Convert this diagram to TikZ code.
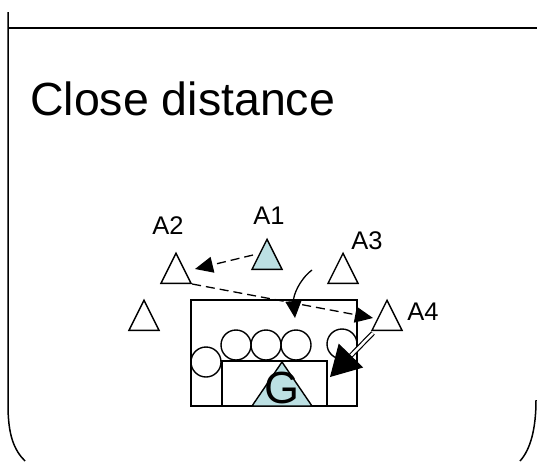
\documentclass[tikz,border=0pt]{standalone}
\usepackage{fontspec}
\setmainfont{Liberation Sans}
\usetikzlibrary{shapes.geometric,arrows.meta}
\definecolor{agentfill}{RGB}{188,224,227}

\begin{document}
\begin{tikzpicture}[x=1pt,y=-1pt]
    \tikzstyle{agent}=[isosceles triangle,shape border rotate=90,isosceles triangle stretches,draw,line width=1.4pt,minimum width=30pt,minimum height=30pt,inner sep=0pt,anchor=south]
    \tikzstyle{tag}=[font=\fontsize{25.5}{25.5}\selectfont,inner sep=0pt]
    \tikzstyle{ball}=[circle,draw,line width=1.4pt,minimum size=30pt,inner sep=0pt]
    \tikzstyle{move}=[dashed,dash pattern=on 9pt off 5pt,line width=1.3pt,-{Triangle[length=18pt,width=16pt]}]
    \useasboundingbox (0,0) rectangle (537,461);
    \draw[line width=1.5pt] (8,12) -- (8,405) .. controls (8,435) and (14,450) .. (25,461);
    \draw[line width=1.5pt] (536,400) .. controls (536,430) and (530,450) .. (520,461);
    \draw[line width=1.5pt] (8,28) -- (537,28);
    \node[anchor=base west,inner sep=0pt,font=\fontsize{46.5}{46.5}\selectfont] (title) at (30,115) {Close distance};
    \node[agent,fill=agentfill] (a1) at (267,270) {};
    \node[agent] (a2) at (176,284) {};
    \node[agent] (a3) at (343,284) {};
    \node[agent] (a5) at (144,331) {};
    \node[agent] (a4) at (387,331) {};
    \node[tag] (a1lbl) at (269,216) {A1};
    \node[tag] (a2lbl) at (168,226) {A2};
    \node[tag] (a3lbl) at (367,241) {A3};
    \node[tag] (a4lbl) at (423,312) {A4};
    \draw[line width=1.4pt] (191,300) rectangle (357,406);
    \node[ball] (b1) at (236,345) {};
    \node[ball] (b2) at (266,345) {};
    \node[ball] (b3) at (296,345) {};
    \node[ball] (b4) at (342,344) {};
    \node[ball] (b5) at (206,362) {};
    \draw[line width=1.4pt,fill=white] (222,361) rectangle (327,406);
    \draw[line width=1.4pt,fill=agentfill] (252,406) -- (282,362) -- (312,406) -- cycle;
    \node[inner sep=0pt,font=\fontsize{45}{45}\selectfont] (goal) at (282,388) {G};
    \coordinate (a1from) at (253,255);
    \coordinate (a2to) at (195,269);
    \coordinate (a4to) at (373,318);
    \coordinate (a4from) at (373,333);
    \coordinate (turnfrom) at (312,270);
    \coordinate (turnto) at (295,318);
    \coordinate (goalto) at (330,377);
    \draw[move] (a1from) -- (a2to);
    \draw[move] (a2.right corner) -- (a4to);
    \draw[line width=1.3pt,-{Triangle[length=17pt,width=16pt]}] (turnfrom) .. controls (299,280) and (293,296) .. (turnto);
    \draw[double,line width=1.2pt,double distance=2.5pt,-{Triangle[length=30pt,width=34pt]}] (a4from) -- (goalto);
\end{tikzpicture}
\end{document}
